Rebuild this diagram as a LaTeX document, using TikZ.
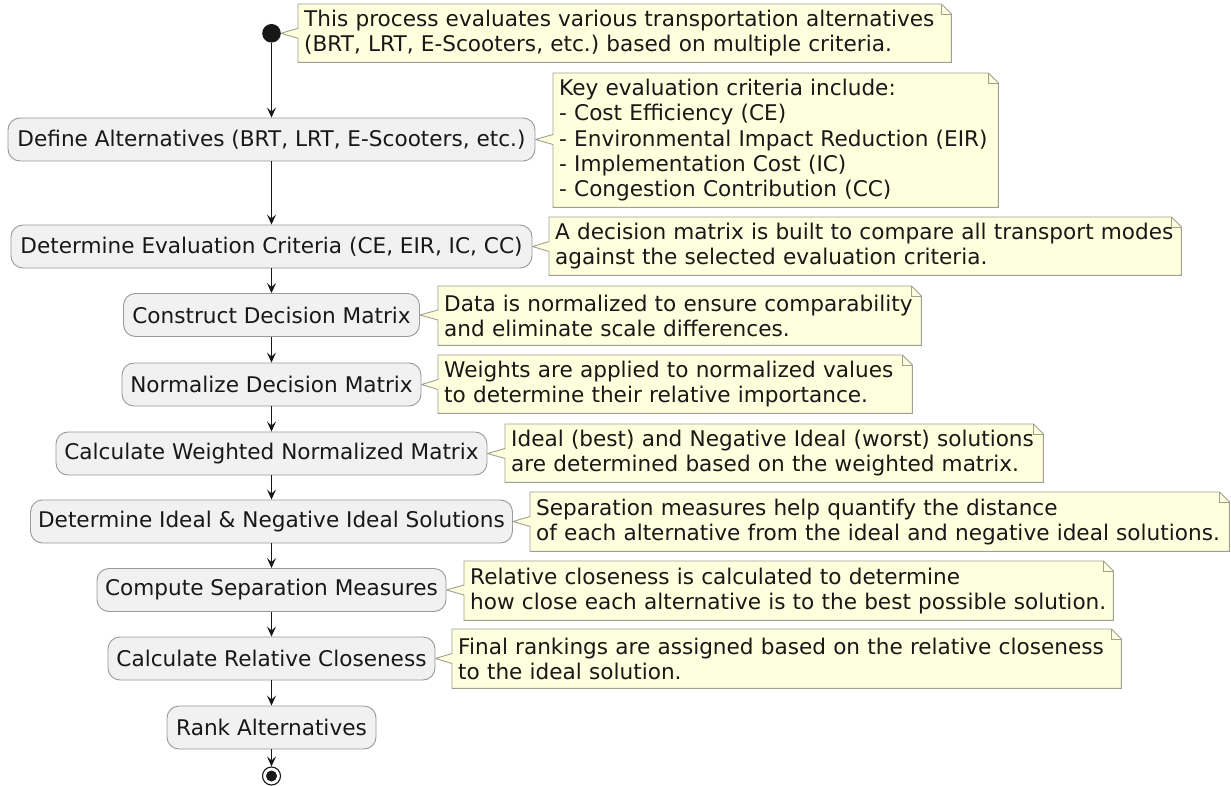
\documentclass[tikz,border=0pt]{standalone}
\usepackage{fontspec}
\setmainfont{DejaVu Sans}
\usetikzlibrary{arrows.meta,calc}
\pgfdeclarelayer{background}
\pgfsetlayers{background,main}
\frenchspacing
\definecolor{boxfill}{HTML}{F1F1F1}
\definecolor{boxborder}{HTML}{999999}
\definecolor{notefill}{HTML}{FEFFDD}
\definecolor{noteborder}{HTML}{A0A090}
\definecolor{dark}{HTML}{181818}
\tikzset{
  act/.style={draw=boxborder, fill=boxfill, rounded corners=12pt, line width=0.9pt,
    minimum height=43pt, inner sep=0pt, text=dark, align=center},
  notetext/.style={anchor=north west, inner xsep=6pt, inner ysep=0pt, align=left, text=dark},
  noteshape/.style={draw=noteborder, fill=notefill, line width=0.9pt, line join=miter},
  foldline/.style={draw=noteborder, line width=0.9pt},
  flow/.style={draw=dark, line width=1.1pt, -{Stealth[length=10pt, width=9pt, inset=4pt]}},
}
% #1 note name, #2 target point
\newcommand{\drawnote}[2]{%
  \path[noteshape] (#1.north west) -- ([xshift=-10pt]#1.north east) -- ([yshift=-10pt]#1.north east)
    -- (#1.south east) -- (#1.south west)
    -- ($(#1.west|-#2)+(0,5)$) -- (#2) -- ($(#1.west|-#2)+(0,-5)$) -- cycle;
  \path[foldline] ([xshift=-10pt]#1.north east) -- ([xshift=-10pt,yshift=-10pt]#1.north east)
    -- ([yshift=-10pt]#1.north east);
}
\begin{document}
\begin{tikzpicture}[x=1pt, y=-1pt, font=\fontsize{21.6pt}{25.3pt}\selectfont]
\useasboundingbox (0,0) rectangle (1231,786);

% start
\node[circle, fill=dark, minimum size=18.6pt, inner sep=0pt] (start) at (271.5,33.3) {};

% activities
\node[act, minimum width=527pt] (b1) at (271.5,139.5) {Define Alternatives (BRT, LRT, E-Scooters, etc.)};
\node[act, minimum width=521pt] (b2) at (271.5,246.5) {Determine Evaluation Criteria (CE, EIR, IC, CC)};
\node[act, minimum width=296pt] (b3) at (271.5,315) {Construct Decision Matrix};
\node[act, minimum width=299pt] (b4) at (271.5,384.5) {Normalize Decision Matrix};
\node[act, minimum width=431pt] (b5) at (271.5,453.5) {Calculate Weighted Normalized Matrix};
\node[act, minimum width=482pt] (b6) at (271.5,521.5) {Determine Ideal \& Negative Ideal Solutions};
\node[act, minimum width=349pt] (b7) at (271.5,590) {Compute Separation Measures};
\node[act, minimum width=327pt] (b8) at (271.5,658.5) {Calculate Relative Closeness};
\node[act, minimum width=209pt] (b9) at (271.5,727.5) {Rank Alternatives};

% end
\node[circle, draw=dark, fill=white, line width=1.1pt, minimum size=18pt, inner sep=0pt] (stop) at (271.5,776) {};
\node[circle, fill=dark, minimum size=11pt, inner sep=0pt] (stopdot) at (stop.center) {};

% connectors
\draw[flow] (start) -- (b1);
\draw[flow] (b1) -- (b2);
\draw[flow] (b2) -- (b3);
\draw[flow] (b3) -- (b4);
\draw[flow] (b4) -- (b5);
\draw[flow] (b5) -- (b6);
\draw[flow] (b6) -- (b7);
\draw[flow] (b7) -- (b8);
\draw[flow] (b8) -- (b9);
\draw[flow] (b9) -- (stop);

% notes (text nodes)
\node[notetext, minimum width=653pt, minimum height=58pt, text width=641pt] (n1) at (298,4)
  {This process evaluates various transportation alternatives\\(BRT, LRT, E-Scooters, etc.) based on multiple criteria.};
\node[notetext, minimum width=445pt, minimum height=134pt, text width=433pt] (n2) at (553,73)
  {Key evaluation criteria include:\\- Cost Efficiency (CE)\\- Environmental Impact Reduction (EIR)\\- Implementation Cost (IC)\\- Congestion Contribution (CC)};
\node[notetext, minimum width=632pt, minimum height=58pt, text width=620pt] (n3) at (549,217)
  {A decision matrix is built to compare all transport modes\\against the selected evaluation criteria.};
\node[notetext, minimum width=483pt, minimum height=59pt, text width=471pt] (n4) at (438,286)
  {Data is normalized to ensure comparability\\and eliminate scale differences.};
\node[notetext, minimum width=474pt, minimum height=58pt, text width=462pt] (n5) at (438,355)
  {Weights are applied to normalized values\\to determine their relative importance.};
\node[notetext, minimum width=538pt, minimum height=58pt, text width=526pt] (n6) at (505,424)
  {Ideal (best) and Negative Ideal (worst) solutions\\are determined based on the weighted matrix.};
\node[notetext, minimum width=699pt, minimum height=59pt, text width=687pt] (n7) at (530,492)
  {Separation measures help quantify the distance\\of each alternative from the ideal and negative ideal solutions.};
\node[notetext, minimum width=649pt, minimum height=59pt, text width=637pt] (n8) at (464,561)
  {Relative closeness is calculated to determine\\how close each alternative is to the best possible solution.};
\node[notetext, minimum width=669pt, minimum height=59pt, text width=657pt] (n9) at (452,629)
  {Final rankings are assigned based on the relative closeness\\to the ideal solution.};

% note shapes behind text
\begin{pgfonlayer}{background}
\fill[white] (0,0) rectangle (1231,786);
\drawnote{n1}{start.east}
\drawnote{n2}{b1.east}
\drawnote{n3}{b2.east}
\drawnote{n4}{b3.east}
\drawnote{n5}{b4.east}
\drawnote{n6}{b5.east}
\drawnote{n7}{b6.east}
\drawnote{n8}{b7.east}
\drawnote{n9}{b8.east}
\end{pgfonlayer}
\end{tikzpicture}
\end{document}
